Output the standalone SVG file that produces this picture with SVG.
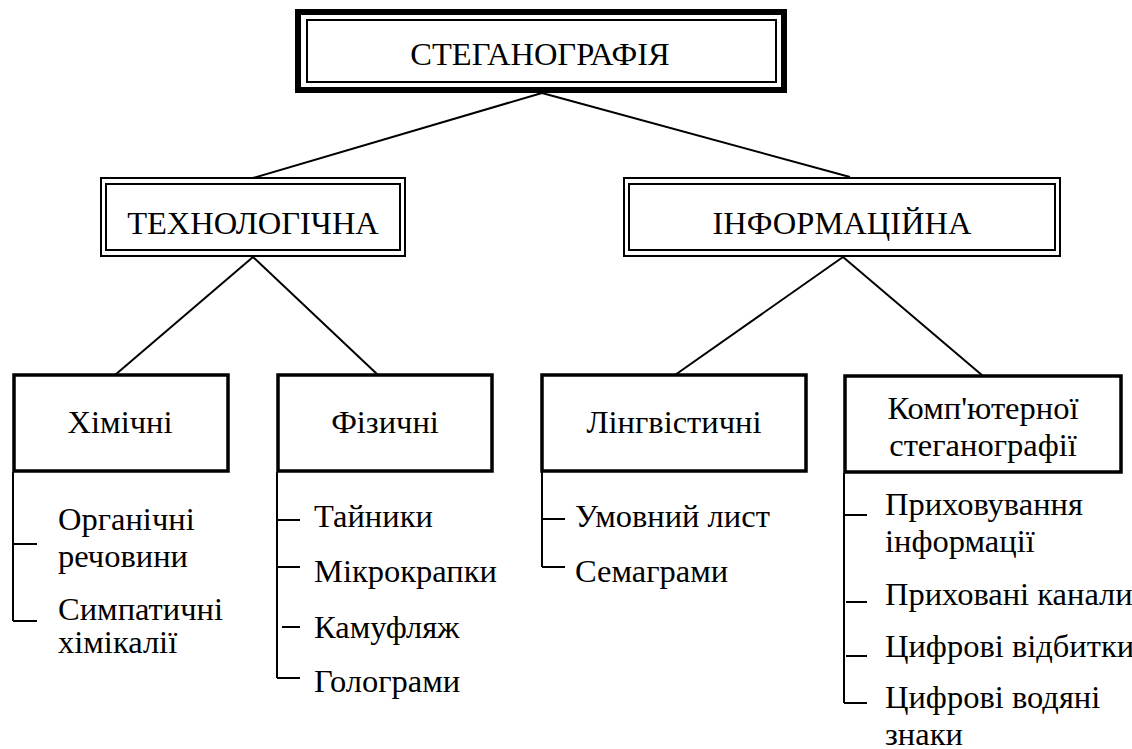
<svg xmlns="http://www.w3.org/2000/svg" width="1132" height="749" viewBox="0 0 1132 749">
<rect width="1132" height="749" fill="#fff"/>
<g id="connectors" fill="none" stroke="#000" stroke-width="2">
<line x1="542" y1="93" x2="253" y2="178"/>
<line x1="542" y1="93" x2="850" y2="177"/>
<line x1="253" y1="257" x2="115" y2="375"/>
<line x1="253" y1="257" x2="378" y2="375"/>
<line x1="843" y1="257" x2="675" y2="375"/>
<line x1="843" y1="257" x2="983" y2="376"/>
<path d="M13,472 V621 M13,544 H37 M13,621 H37"/>
<path d="M277,472 V678 M277,520 H300 M277,567 H300 M282,627 H300 M277,678 H300"/>
<path d="M542,472 V567 M542,519 H565 M542,567 H565"/>
<path d="M844,473 V703 M844,515 H867 M846,602 H867 M846,656 H867 M844,703 H867"/>
</g>
<g id="steganography">
<rect x="298" y="12" width="486" height="78" fill="#fff" stroke="#000" stroke-width="6"/>
<rect x="307" y="20" width="469" height="62" fill="none" stroke="#000" stroke-width="2"/>
<text x="540" y="65" text-anchor="middle" font-family="Liberation Serif" font-size="32.5">СТЕГАНОГРАФІЯ</text>
</g>
<g id="technological">
<rect x="101" y="178" width="304" height="78" fill="#fff" stroke="#000" stroke-width="2"/>
<rect x="106" y="184" width="294" height="66" fill="none" stroke="#000" stroke-width="2"/>
<text x="253" y="234" text-anchor="middle" font-family="Liberation Serif" font-size="32.5">ТЕХНОЛОГІЧНА</text>
</g>
<g id="informational">
<rect x="624" y="178" width="436" height="78" fill="#fff" stroke="#000" stroke-width="2"/>
<rect x="629" y="184" width="426" height="66" fill="none" stroke="#000" stroke-width="2"/>
<text x="842" y="234" text-anchor="middle" font-family="Liberation Serif" font-size="32.5">ІНФОРМАЦІЙНА</text>
</g>
<g id="chemical" font-family="Liberation Serif" font-size="32.5">
<rect x="14" y="375" width="214" height="96" fill="#fff" stroke="#000" stroke-width="3.5"/>
<text x="120" y="433" text-anchor="middle" font-family="Liberation Serif">Хімічні</text>
<text x="58" y="530" font-family="Liberation Serif">Органічні</text>
<text x="58" y="567" font-family="Liberation Serif">речовини</text>
<text x="58" y="620" font-family="Liberation Serif">Симпатичні</text>
<text x="58" y="653" font-family="Liberation Serif">хімікалії</text>
</g>
<g id="physical" font-family="Liberation Serif" font-size="32.5">
<rect x="278" y="375" width="214" height="96" fill="#fff" stroke="#000" stroke-width="3.5"/>
<text x="385" y="433" text-anchor="middle" font-family="Liberation Serif">Фізичні</text>
<text x="314" y="527" font-family="Liberation Serif">Тайники</text>
<text x="314" y="582" font-family="Liberation Serif">Мікрокрапки</text>
<text x="314" y="638" font-family="Liberation Serif">Камуфляж</text>
<text x="314" y="692" font-family="Liberation Serif">Голограми</text>
</g>
<g id="linguistic" font-family="Liberation Serif" font-size="32.5">
<rect x="542" y="375" width="264" height="96" fill="#fff" stroke="#000" stroke-width="3.5"/>
<text x="674" y="433" text-anchor="middle" font-family="Liberation Serif">Лінгвістичні</text>
<text x="575" y="527" font-family="Liberation Serif">Умовний лист</text>
<text x="575" y="582" font-family="Liberation Serif">Семаграми</text>
</g>
<g id="computer" font-family="Liberation Serif" font-size="32.5">
<rect x="845" y="376" width="276" height="96" fill="#fff" stroke="#000" stroke-width="3.5"/>
<text x="983" y="419" text-anchor="middle" font-family="Liberation Serif">Комп'ютерної</text>
<text x="983" y="456" text-anchor="middle" font-family="Liberation Serif">стеганографії</text>
<text x="885" y="515" font-family="Liberation Serif">Приховування</text>
<text x="885" y="552" font-family="Liberation Serif">інформації</text>
<text x="885" y="605" font-family="Liberation Serif">Приховані канали</text>
<text x="885" y="657" font-family="Liberation Serif">Цифрові відбитки</text>
<text x="885" y="708" font-family="Liberation Serif">Цифрові водяні</text>
<text x="885" y="745" font-family="Liberation Serif">знаки</text>
</g>
</svg>
